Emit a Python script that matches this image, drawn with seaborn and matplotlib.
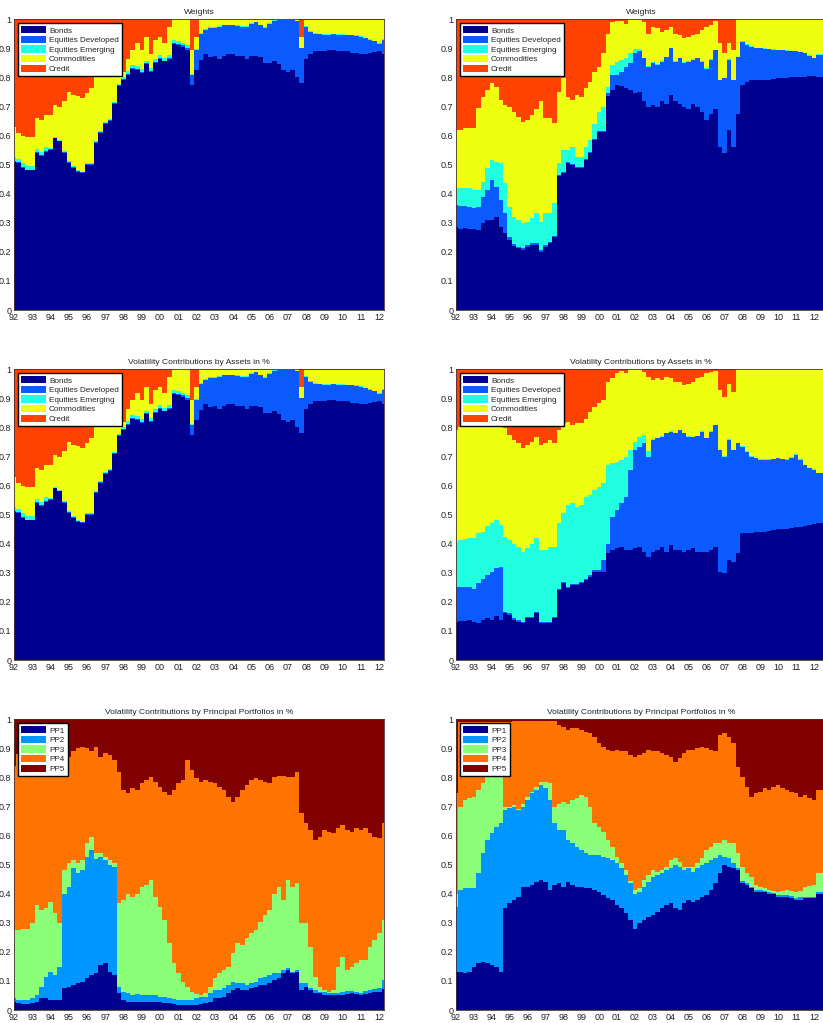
import numpy as np
import matplotlib
matplotlib.use("Agg")
import matplotlib.pyplot as plt
from matplotlib.patches import Patch
import seaborn as sns

# ---------------- axes / labels ----------------
dates = 1992 + 0.25 * np.arange(82)          # quarterly observations 1992.00 .. 2012.25
year_ticks = list(range(1992, 2013))
year_labels = [f"{y % 100:02d}" for y in year_ticks]
y_ticks = [0, 0.1, 0.2, 0.3, 0.4, 0.5, 0.6, 0.7, 0.8, 0.9, 1.0]
y_labels = ["0", "0.1", "0.2", "0.3", "0.4", "0.5", "0.6", "0.7", "0.8", "0.9", "1"]

asset_names = ["Bonds", "Equities Developed", "Equities Emerging", "Commodities", "Credit"]
pp_names = ["PP1", "PP2", "PP3", "PP4", "PP5"]
asset_colors = ["#00008F", "#0A5AFF", "#20FFDF", "#EFFF10", "#FF4200"]
pp_colors = ["#00008F", "#0096FF", "#8CFF78", "#FF7300", "#800000"]

titles = ["Weights", "Weights",
          "Volatility Contributions by Assets in %", "Volatility Contributions by Assets in %",
          "Volatility Contributions by Principal Portfolios in %",
          "Volatility Contributions by Principal Portfolios in %"]

# ---------------- left portfolio: weights (identical to its vol contributions) ----------------
w_left_bonds = [
    0.51, 0.505, 0.49, 0.48, 0.48, 0.54, 0.53, 0.545, 0.55, 0.59, 0.58, 0.54,
    0.505, 0.49, 0.475, 0.47, 0.50, 0.50, 0.575, 0.61, 0.64, 0.65, 0.71, 0.77,
    0.79, 0.81, 0.83, 0.825, 0.815, 0.845, 0.82, 0.85, 0.865, 0.855, 0.865, 0.915,
    0.91, 0.905, 0.895, 0.775, 0.825, 0.86, 0.88, 0.87, 0.875, 0.865, 0.875, 0.88,
    0.88, 0.875, 0.875, 0.865, 0.875, 0.875, 0.87, 0.85, 0.85, 0.855, 0.845, 0.825,
    0.82, 0.825, 0.80, 0.78, 0.865, 0.88, 0.89, 0.89, 0.89, 0.895, 0.895, 0.89,
    0.89, 0.89, 0.885, 0.885, 0.88, 0.882, 0.885, 0.888, 0.89, 0.88]
w_left_eqdev = [
    0.003, 0.003, 0.003, 0.003, 0.003, 0.003, 0.003, 0.003, 0.003, 0.003, 0.003, 0.003,
    0.003, 0.003, 0.003, 0.003, 0.003, 0.003, 0.003, 0.003, 0.003, 0.003, 0.003, 0.003,
    0.003, 0.003, 0.003, 0.003, 0.003, 0.003, 0.003, 0.003, 0.003, 0.003, 0.003, 0.005,
    0.005, 0.005, 0.005, 0.035, 0.07, 0.09, 0.083, 0.10, 0.095, 0.11, 0.105, 0.10,
    0.10, 0.103, 0.10, 0.11, 0.11, 0.115, 0.11, 0.12, 0.135, 0.14, 0.152, 0.172,
    0.177, 0.172, 0.193, 0.12, 0.11, 0.077, 0.06, 0.058, 0.056, 0.051, 0.053, 0.056,
    0.056, 0.055, 0.06, 0.058, 0.06, 0.053, 0.045, 0.037, 0.025, 0.05]
w_left_eqem = [
    0.012, 0.012, 0.012, 0.012, 0.012, 0.012, 0.012, 0.012, 0.003, 0.003, 0.003, 0.003,
    0.003, 0.003, 0.003, 0.003, 0.003, 0.003, 0.003, 0.003, 0.003, 0.003, 0.003, 0.003,
    0.01, 0.01, 0.01, 0.01, 0.01, 0.01, 0.01, 0.01, 0.01, 0.01, 0.01, 0.01,
    0.01, 0.01, 0.01, 0.002, 0.002, 0.002, 0.002, 0.002, 0.002, 0.002, 0.002, 0.002,
    0.002, 0.002, 0.002, 0.002, 0.002, 0.002, 0.002, 0.002, 0.002, 0.002, 0.002, 0.002,
    0.002, 0.002, 0.002, 0.002, 0.002, 0.002, 0.002, 0.002, 0.002, 0.002, 0.002, 0.002,
    0.002, 0.002, 0.002, 0.002, 0.002, 0.002, 0.002, 0.002, 0.002, 0.002]
w_left_commod = [
    0.105, 0.09, 0.095, 0.10, 0.10, 0.105, 0.11, 0.11, 0.114, 0.109, 0.114, 0.174,
    0.239, 0.244, 0.254, 0.254, 0.239, 0.259, 0.219, 0.184, 0.154, 0.144, 0.084, 0.034,
    0.017, 0.042, 0.052, 0.082, 0.067, 0.082, 0.047, 0.067, 0.062, 0.052, 0.097, 0.07,
    0.075, 0.08, 0.09, 0.083, 0.043, 0.048, 0.035, 0.028, 0.028, 0.023, 0.018, 0.018,
    0.018, 0.02, 0.023, 0.023, 0.013, 0.008, 0.018, 0.028, 0.013, 0.003, 0.001, 0.001,
    0.001, 0.001, 0.005, 0.038, 0.021, 0.039, 0.046, 0.048, 0.05, 0.05, 0.048, 0.05,
    0.05, 0.051, 0.051, 0.053, 0.056, 0.061, 0.066, 0.071, 0.081, 0.066]

# ---------------- right portfolio: weights ----------------
w_right_bonds = [
    0.287, 0.28, 0.283, 0.28, 0.28, 0.275, 0.30, 0.31, 0.31, 0.32, 0.285, 0.265,
    0.24, 0.22, 0.212, 0.206, 0.218, 0.224, 0.224, 0.20, 0.218, 0.23, 0.25, 0.46,
    0.47, 0.505, 0.50, 0.49, 0.49, 0.515, 0.54, 0.585, 0.613, 0.613, 0.735, 0.757,
    0.775, 0.77, 0.763, 0.757, 0.745, 0.75, 0.72, 0.70, 0.705, 0.70, 0.72, 0.71,
    0.74, 0.72, 0.71, 0.70, 0.69, 0.71, 0.70, 0.68, 0.655, 0.675, 0.69, 0.56,
    0.54, 0.62, 0.56, 0.675, 0.775, 0.785, 0.79, 0.79, 0.79, 0.79, 0.792, 0.795,
    0.797, 0.797, 0.798, 0.80, 0.80, 0.80, 0.802, 0.804, 0.805, 0.80]
w_right_eqdev = [
    0.073, 0.078, 0.075, 0.075, 0.07, 0.08, 0.09, 0.103, 0.137, 0.104, 0.093, 0.068,
    0.01, 0.008, 0.006, 0.006, 0.005, 0.005, 0.005, 0.005, 0.005, 0.005, 0.005, 0.004,
    0.003, 0.003, 0.003, 0.003, 0.003, 0.003, 0.003, 0.003, 0.003, 0.003, 0.012, 0.053,
    0.035, 0.05, 0.074, 0.093, 0.138, 0.14, 0.146, 0.137, 0.145, 0.143, 0.134, 0.16,
    0.16, 0.134, 0.156, 0.15, 0.164, 0.15, 0.166, 0.174, 0.175, 0.185, 0.204, 0.23,
    0.257, 0.24, 0.23, 0.195, 0.148, 0.127, 0.116, 0.11, 0.11, 0.108, 0.105, 0.10,
    0.097, 0.096, 0.094, 0.09, 0.09, 0.087, 0.081, 0.071, 0.061, 0.077]
w_right_eqem = [
    0.06, 0.062, 0.062, 0.065, 0.063, 0.058, 0.05, 0.077, 0.069, 0.086, 0.127, 0.103,
    0.105, 0.092, 0.092, 0.086, 0.081, 0.086, 0.104, 0.099, 0.11, 0.098, 0.112, 0.04,
    0.077, 0.042, 0.057, 0.034, 0.034, 0.042, 0.042, 0.052, 0.064, 0.084, 0.021, 0.033,
    0.044, 0.04, 0.029, 0.033, 0.014, 0.008, 0.002, 0.002, 0.002, 0.002, 0.002, 0.002,
    0.002, 0.002, 0.002, 0.002, 0.002, 0.002, 0.002, 0.002, 0.002, 0.002, 0.002, 0.002,
    0.002, 0.002, 0.002, 0.002, 0.002, 0.002, 0.002, 0.002, 0.002, 0.002, 0.002, 0.002,
    0.002, 0.002, 0.002, 0.002, 0.002, 0.002, 0.002, 0.002, 0.002, 0.002]
w_right_commod = [
    0.20, 0.20, 0.205, 0.205, 0.212, 0.281, 0.294, 0.267, 0.264, 0.258, 0.217, 0.269,
    0.345, 0.36, 0.355, 0.35, 0.35, 0.355, 0.357, 0.416, 0.327, 0.327, 0.275, 0.246,
    0.247, 0.184, 0.162, 0.213, 0.207, 0.203, 0.20, 0.18, 0.157, 0.183, 0.182, 0.147,
    0.141, 0.135, 0.119, 0.117, 0.103, 0.102, 0.122, 0.111, 0.123, 0.125, 0.102, 0.091,
    0.073, 0.094, 0.078, 0.083, 0.084, 0.084, 0.082, 0.107, 0.143, 0.118, 0.099, 0.125,
    0.084, 0.055, 0.102, 0.128, 0.075, 0.086, 0.092, 0.098, 0.098, 0.10, 0.101, 0.103,
    0.104, 0.105, 0.106, 0.108, 0.108, 0.111, 0.115, 0.123, 0.132, 0.121]

# ---------------- right portfolio: volatility contributions by assets ----------------
vc_right_bonds = [
    0.132, 0.135, 0.135, 0.138, 0.132, 0.126, 0.138, 0.143, 0.138, 0.15, 0.138, 0.16,
    0.155, 0.138, 0.132, 0.126, 0.143, 0.143, 0.16, 0.126, 0.126, 0.126, 0.143, 0.24,
    0.264, 0.247, 0.258, 0.258, 0.264, 0.275, 0.287, 0.304, 0.304, 0.304, 0.367, 0.378,
    0.384, 0.39, 0.378, 0.378, 0.384, 0.39, 0.373, 0.355, 0.373, 0.378, 0.39, 0.373,
    0.396, 0.378, 0.378, 0.373, 0.378, 0.384, 0.373, 0.373, 0.373, 0.378, 0.39, 0.304,
    0.298, 0.344, 0.338, 0.367, 0.436, 0.436, 0.438, 0.44, 0.44, 0.442, 0.444, 0.446,
    0.45, 0.451, 0.452, 0.453, 0.456, 0.458, 0.46, 0.463, 0.468, 0.472]
vc_right_eqdev = [
    0.12, 0.115, 0.115, 0.112, 0.111, 0.138, 0.142, 0.149, 0.166, 0.165, 0.182, 0.005,
    0.005, 0.005, 0.005, 0.005, 0.005, 0.005, 0.005, 0.005, 0.005, 0.005, 0.005, 0.005,
    0.005, 0.005, 0.005, 0.005, 0.005, 0.005, 0.005, 0.005, 0.005, 0.04, 0.033, 0.115,
    0.132, 0.15, 0.182, 0.276, 0.338, 0.344, 0.372, 0.345, 0.384, 0.385, 0.378, 0.407,
    0.389, 0.402, 0.412, 0.407, 0.39, 0.382, 0.397, 0.412, 0.39, 0.407, 0.418, 0.418,
    0.402, 0.413, 0.384, 0.378, 0.298, 0.281, 0.262, 0.254, 0.248, 0.246, 0.244, 0.244,
    0.244, 0.239, 0.236, 0.242, 0.249, 0.23, 0.21, 0.197, 0.186, 0.17]
vc_right_eqem = [
    0.155, 0.163, 0.165, 0.17, 0.177, 0.172, 0.16, 0.168, 0.166, 0.167, 0.145, 0.259,
    0.253, 0.257, 0.253, 0.242, 0.236, 0.252, 0.255, 0.247, 0.247, 0.259, 0.242, 0.225,
    0.236, 0.281, 0.277, 0.264, 0.264, 0.28, 0.276, 0.276, 0.287, 0.264, 0.27, 0.184,
    0.166, 0.148, 0.14, 0.068, 0.028, 0.034, 0.029, 0.02, 0.002, 0.002, 0.002, 0.002,
    0.002, 0.002, 0.002, 0.002, 0.002, 0.002, 0.002, 0.002, 0.002, 0.002, 0.002, 0.002,
    0.002, 0.002, 0.002, 0.002, 0.002, 0.002, 0.002, 0.002, 0.002, 0.002, 0.002, 0.002,
    0.002, 0.002, 0.002, 0.002, 0.002, 0.002, 0.002, 0.002, 0.002, 0.002]
vc_right_commod = [
    0.383, 0.387, 0.395, 0.39, 0.39, 0.374, 0.37, 0.35, 0.34, 0.328, 0.34, 0.373,
    0.361, 0.357, 0.355, 0.355, 0.356, 0.35, 0.348, 0.362, 0.367, 0.367, 0.355, 0.32,
    0.309, 0.287, 0.27, 0.287, 0.281, 0.27, 0.286, 0.285, 0.287, 0.286, 0.288, 0.293,
    0.304, 0.307, 0.286, 0.278, 0.25, 0.232, 0.216, 0.255, 0.204, 0.205, 0.193, 0.193,
    0.183, 0.176, 0.166, 0.164, 0.18, 0.19, 0.198, 0.188, 0.221, 0.203, 0.185, 0.206,
    0.204, 0.191, 0.199, 0.253, 0.264, 0.281, 0.298, 0.304, 0.31, 0.31, 0.31, 0.308,
    0.304, 0.308, 0.31, 0.303, 0.293, 0.31, 0.328, 0.338, 0.344, 0.356]

# ---------------- left portfolio: vol contributions by principal portfolios ----------------
pp_left_1 = [
    0.029, 0.023, 0.02, 0.02, 0.023, 0.029, 0.04, 0.04, 0.034, 0.034, 0.034, 0.075,
    0.08, 0.086, 0.092, 0.097, 0.109, 0.12, 0.126, 0.155, 0.16, 0.132, 0.12, 0.057,
    0.034, 0.029, 0.029, 0.029, 0.029, 0.029, 0.029, 0.028, 0.026, 0.025, 0.023, 0.02,
    0.017, 0.017, 0.017, 0.017, 0.017, 0.02, 0.023, 0.029, 0.04, 0.04, 0.046, 0.057,
    0.069, 0.075, 0.069, 0.069, 0.075, 0.08, 0.086, 0.086, 0.092, 0.103, 0.109, 0.126,
    0.138, 0.126, 0.132, 0.069, 0.08, 0.069, 0.057, 0.057, 0.052, 0.052, 0.052, 0.052,
    0.052, 0.055, 0.057, 0.055, 0.052, 0.056, 0.06, 0.061, 0.063, 0.071]
pp_left_2 = [
    0.011, 0.011, 0.014, 0.014, 0.017, 0.023, 0.04, 0.075, 0.098, 0.086, 0.115, 0.325,
    0.344, 0.401, 0.378, 0.385, 0.419, 0.43, 0.394, 0.373, 0.356, 0.368, 0.373, 0.023,
    0.029, 0.028, 0.023, 0.026, 0.024, 0.023, 0.023, 0.022, 0.02, 0.018, 0.017, 0.017,
    0.017, 0.017, 0.017, 0.017, 0.023, 0.023, 0.023, 0.028, 0.029, 0.029, 0.029, 0.029,
    0.028, 0.017, 0.023, 0.017, 0.017, 0.017, 0.023, 0.029, 0.028, 0.023, 0.017, 0.012,
    0.005, 0.005, 0.005, 0.023, 0.012, 0.006, 0.012, 0.006, 0.011, 0.008, 0.008, 0.008,
    0.011, 0.01, 0.008, 0.008, 0.005, 0.008, 0.009, 0.01, 0.012, 0.032]
pp_left_3 = [
    0.235, 0.241, 0.246, 0.243, 0.26, 0.308, 0.264, 0.235, 0.238, 0.213, 0.151, 0.08,
    0.081, 0.029, 0.035, 0.034, 0.045, 0.046, 0.02, 0.012, 0.012, 0.016, 0.012, 0.287,
    0.315, 0.343, 0.338, 0.345, 0.371, 0.378, 0.395, 0.34, 0.309, 0.267, 0.19, 0.123,
    0.092, 0.063, 0.046, 0.029, 0.015, 0.009, 0.011, 0.023, 0.04, 0.057, 0.063, 0.063,
    0.098, 0.138, 0.132, 0.161, 0.172, 0.178, 0.195, 0.212, 0.224, 0.274, 0.298, 0.24,
    0.304, 0.293, 0.299, 0.208, 0.208, 0.143, 0.046, 0.017, 0.006, 0.003, 0.009, 0.089,
    0.12, 0.073, 0.084, 0.097, 0.115, 0.108, 0.149, 0.169, 0.189, 0.207]
pp_left_4 = [
    0.565, 0.605, 0.60, 0.603, 0.58, 0.52, 0.536, 0.53, 0.51, 0.547, 0.58, 0.40,
    0.365, 0.374, 0.395, 0.39, 0.327, 0.294, 0.366, 0.33, 0.355, 0.361, 0.355, 0.453,
    0.379, 0.345, 0.373, 0.357, 0.356, 0.36, 0.353, 0.395, 0.413, 0.44, 0.51, 0.597,
    0.654, 0.693, 0.78, 0.762, 0.742, 0.733, 0.733, 0.705, 0.671, 0.642, 0.619, 0.585,
    0.522, 0.504, 0.533, 0.527, 0.526, 0.522, 0.486, 0.458, 0.436, 0.40, 0.382, 0.428,
    0.353, 0.376, 0.384, 0.377, 0.342, 0.402, 0.47, 0.516, 0.551, 0.55, 0.539, 0.476,
    0.453, 0.482, 0.464, 0.465, 0.448, 0.453, 0.39, 0.356, 0.326, 0.332]

# ---------------- right portfolio: vol contributions by principal portfolios ----------------
pp_right_1 = [
    0.132, 0.132, 0.126, 0.132, 0.149, 0.16, 0.166, 0.16, 0.155, 0.149, 0.132, 0.35,
    0.367, 0.378, 0.39, 0.424, 0.424, 0.43, 0.44, 0.447, 0.44, 0.413, 0.43, 0.436,
    0.424, 0.44, 0.43, 0.424, 0.424, 0.418, 0.418, 0.413, 0.407, 0.396, 0.384, 0.378,
    0.36, 0.35, 0.333, 0.31, 0.28, 0.298, 0.31, 0.32, 0.327, 0.338, 0.35, 0.36,
    0.367, 0.35, 0.344, 0.367, 0.378, 0.373, 0.378, 0.39, 0.396, 0.413, 0.436, 0.47,
    0.50, 0.493, 0.487, 0.482, 0.436, 0.43, 0.418, 0.407, 0.407, 0.405, 0.40, 0.398,
    0.39, 0.39, 0.39, 0.385, 0.378, 0.38, 0.384, 0.384, 0.384, 0.40]
pp_right_2 = [
    0.223, 0.281, 0.294, 0.288, 0.271, 0.31, 0.374, 0.425, 0.453, 0.481, 0.51, 0.338,
    0.327, 0.322, 0.298, 0.276, 0.298, 0.315, 0.317, 0.327, 0.323, 0.309, 0.212, 0.184,
    0.196, 0.145, 0.143, 0.138, 0.126, 0.122, 0.115, 0.12, 0.126, 0.131, 0.138, 0.138,
    0.145, 0.137, 0.131, 0.126, 0.12, 0.109, 0.114, 0.12, 0.132, 0.126, 0.12, 0.122,
    0.12, 0.15, 0.149, 0.115, 0.109, 0.103, 0.109, 0.11, 0.109, 0.103, 0.086, 0.063,
    0.027, 0.029, 0.018, 0.008, 0.008, 0.006, 0.006, 0.005, 0.005, 0.005, 0.005, 0.005,
    0.006, 0.006, 0.006, 0.006, 0.006, 0.01, 0.006, 0.006, 0.006, 0.007]
pp_right_3 = [
    0.045, 0.287, 0.302, 0.308, 0.314, 0.287, 0.24, 0.215, 0.212, 0.19, 0.178, 0.012,
    0.006, 0.005, 0.005, 0.01, 0.012, 0.005, 0.011, 0.011, 0.022, 0.058, 0.058, 0.09,
    0.097, 0.125, 0.149, 0.166, 0.19, 0.194, 0.167, 0.109, 0.097, 0.086, 0.063, 0.046,
    0.022, 0.018, 0.018, 0.008, 0.013, 0.011, 0.023, 0.024, 0.023, 0.012, 0.012, 0.011,
    0.029, 0.022, 0.017, 0.011, 0.006, 0.017, 0.018, 0.022, 0.045, 0.046, 0.051, 0.04,
    0.058, 0.051, 0.068, 0.05, 0.049, 0.034, 0.035, 0.018, 0.012, 0.008, 0.008, 0.007,
    0.011, 0.014, 0.017, 0.019, 0.023, 0.02, 0.034, 0.038, 0.04, 0.063]
pp_right_4 = [
    0.345, 0.29, 0.268, 0.262, 0.256, 0.233, 0.21, 0.19, 0.17, 0.17, 0.17, 0.29,
    0.29, 0.29, 0.302, 0.285, 0.261, 0.245, 0.227, 0.21, 0.21, 0.215, 0.295, 0.27,
    0.258, 0.253, 0.248, 0.242, 0.223, 0.224, 0.252, 0.298, 0.287, 0.293, 0.309, 0.328,
    0.367, 0.385, 0.408, 0.433, 0.458, 0.459, 0.436, 0.43, 0.408, 0.414, 0.401, 0.384,
    0.355, 0.332, 0.356, 0.39, 0.401, 0.401, 0.395, 0.384, 0.35, 0.332, 0.317, 0.373,
    0.367, 0.367, 0.344, 0.297, 0.307, 0.298, 0.275, 0.315, 0.327, 0.345, 0.344, 0.358,
    0.367, 0.353, 0.344, 0.341, 0.338, 0.324, 0.316, 0.30, 0.292, 0.287]

# ---------------- drawing ----------------
sns.set_style("white")
plt.rcParams["font.family"] = ["Liberation Sans", "DejaVu Sans"]

fig = plt.figure(figsize=(8.23, 10.23), dpi=100)
W, H = 823.0, 1023.0

def axes_at(x0, y_top, width, height):
    return fig.add_axes([x0 / W, 1 - (y_top + height) / H, width / W, height / H])

row_tops = [19.3, 369.3, 719.3]
ax_h = 290.7
left_x0, left_w, left_end = 14.0, 370.0, 2012.26
right_x0, right_end = 456.0, 2012.65
right_w = (right_end - 1992) * 17.9

def stacked(ax, comps, colors, names, x_end, title):
    comps = np.array(comps, dtype=float)
    tops = list(np.clip(np.cumsum(comps, axis=0), 0, 1)) + [np.ones(len(dates))]
    xs = np.append(dates, x_end)
    for k in range(len(tops) - 1, -1, -1):
        y = np.append(tops[k], tops[k][-1])
        ax.fill_between(xs, 0, y, step="mid", color=colors[k], linewidth=0, zorder=1 + (5 - k) * 0.01)
    ax.set_xlim(1992, x_end)
    ax.set_ylim(0, 1)
    ax.set_xticks(year_ticks)
    ax.set_xticklabels(year_labels)
    ax.set_yticks(y_ticks)
    ax.set_yticklabels(y_labels)
    ax.tick_params(axis="both", length=0, labelsize=6.5, colors="#222222")
    ax.tick_params(axis="x", pad=2.5)
    ax.tick_params(axis="y", pad=2.0)
    ax.set_title(title, fontsize=6.1, pad=3.5, color="#222222")
    for s in ax.spines.values():
        s.set_color("#4a3030")
        s.set_linewidth(0.6)
        s.set_zorder(5)
    handles = [Patch(facecolor=c, edgecolor="none", label=n) for c, n in zip(colors, names)]
    leg = ax.legend(handles=handles, loc="upper left", fontsize=5.9, frameon=True,
                    fancybox=False, edgecolor="black", framealpha=1.0, borderaxespad=0.45,
                    handlelength=3.1, handleheight=1.0, handletextpad=0.35,
                    labelspacing=0.14, borderpad=0.38)
    leg.get_frame().set_linewidth(1.0)
    leg.set_zorder(10)

panels = [
    ([w_left_bonds, w_left_eqdev, w_left_eqem, w_left_commod], asset_colors, asset_names),
    ([w_right_bonds, w_right_eqdev, w_right_eqem, w_right_commod], asset_colors, asset_names),
    ([w_left_bonds, w_left_eqdev, w_left_eqem, w_left_commod], asset_colors, asset_names),
    ([vc_right_bonds, vc_right_eqdev, vc_right_eqem, vc_right_commod], asset_colors, asset_names),
    ([pp_left_1, pp_left_2, pp_left_3, pp_left_4], pp_colors, pp_names),
    ([pp_right_1, pp_right_2, pp_right_3, pp_right_4], pp_colors, pp_names),
]

for i, (comps, colors, names) in enumerate(panels):
    r, c = divmod(i, 2)
    if c == 0:
        ax = axes_at(left_x0, row_tops[r], left_w, ax_h)
        stacked(ax, comps, colors, names, left_end, titles[i])
    else:
        ax = axes_at(right_x0, row_tops[r], right_w, ax_h)
        stacked(ax, comps, colors, names, right_end, titles[i])

fig.savefig("out.png", dpi=100)
